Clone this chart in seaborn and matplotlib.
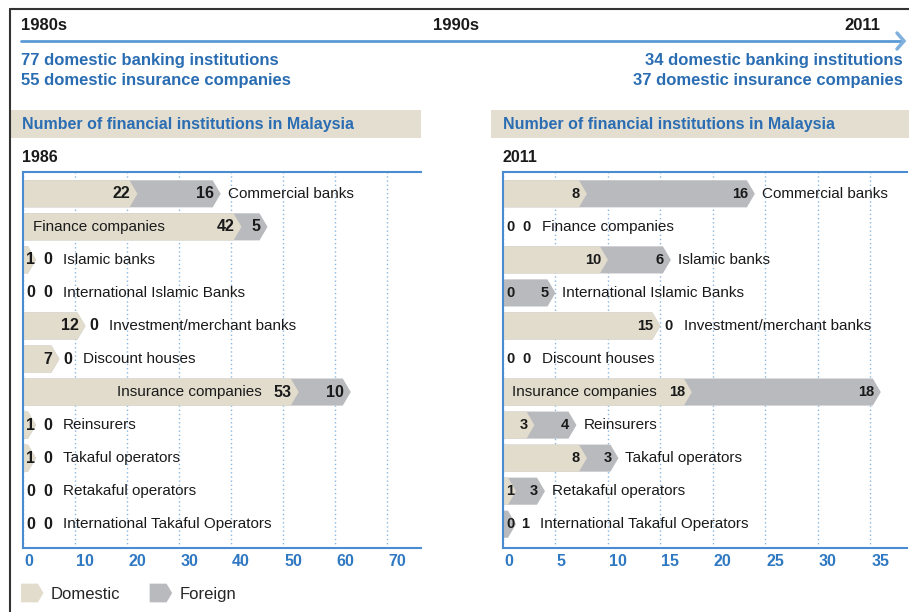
import pandas as pd
import matplotlib.pyplot as plt
import matplotlib.transforms as mt
import seaborn as sns
from matplotlib.patches import Polygon, Rectangle, Patch
from matplotlib.lines import Line2D
from matplotlib.legend_handler import HandlerPatch

# Data
categories = ['Commercial banks', 'Finance companies', 'Islamic banks',
              'International Islamic Banks', 'Investment/merchant banks',
              'Discount houses', 'Insurance companies', 'Reinsurers',
              'Takaful operators', 'Retakaful operators',
              'International Takaful Operators']
domestic_1986 = [22, 42, 1, 0, 12, 7, 53, 1, 1, 0, 0]
foreign_1986 = [16, 5, 0, 0, 0, 0, 10, 0, 0, 0, 0]
domestic_2011 = [8, 0, 10, 0, 15, 0, 18, 3, 8, 1, 0]
foreign_2011 = [16, 0, 6, 5, 0, 0, 18, 4, 3, 3, 1]
ticks_1986 = [0, 10, 20, 30, 40, 50, 60, 70]
ticks_2011 = [0, 5, 10, 15, 20, 25, 30, 35]

timeline = ['1980s', '1990s', '2011']
summary_1980s = ['77 domestic banking institutions', '55 domestic insurance companies']
summary_2011 = ['34 domestic banking institutions', '37 domestic insurance companies']
panel_title = 'Number of financial institutions in Malaysia'

BEIGE = '#e2dccd'
GREY = '#b9babe'
BLUE = '#2a6db2'
AXBLUE = '#4a8ccf'
DARK = '#1a1a1a'
W, H = 909, 612
TIP = 8  # arrow tip depth, pixels

sns.set_style('white')
plt.rcParams['font.family'] = ['Liberation Sans', 'DejaVu Sans']

fig = plt.figure(figsize=(W / 100, H / 100), dpi=100)


def fx(px):
    return px / W


def fy(py):
    return 1 - py / H


# outer frame
fig.add_artist(Line2D([fx(10), 1], [fy(9), fy(9)], color='#333333', lw=1.5))
fig.add_artist(Line2D([fx(10), fx(10)], [fy(9), 0], color='#333333', lw=1.5))

# timeline
fig.add_artist(Line2D([fx(21), fx(902)], [fy(41), fy(41)], color='#5b9bd5', lw=2))
fig.add_artist(Line2D([fx(897), fx(904), fx(897)], [fy(33), fy(41), fy(49)],
                      color='#7fb0de', lw=2.5, solid_joinstyle='miter'))
fig.text(fx(21), fy(25), timeline[0], fontsize=12, fontweight='bold', color=DARK, va='center')
fig.text(fx(456), fy(25), timeline[1], fontsize=12, fontweight='bold', color=DARK, va='center', ha='center')
fig.text(fx(880), fy(25), timeline[2], fontsize=12, fontweight='bold', color=DARK, va='center', ha='right')
for k, (a, b) in enumerate(zip(summary_1980s, summary_2011)):
    fig.text(fx(21), fy(60 + 20 * k), a, fontsize=12, fontweight='bold', color=BLUE, va='center')
    fig.text(fx(903), fy(60 + 20 * k), b, fontsize=12, fontweight='bold', color=BLUE, va='center', ha='right')

# panel headers
for left, right, year in [(10, 421, '1986'), (491, 909, '2011')]:
    fig.add_artist(Rectangle((fx(left), fy(138)), fx(right - left), 28 / H,
                             facecolor='#e4ded1', edgecolor='none'))
    fig.text(fx(left + 12), fy(124.5), panel_title, fontsize=11.5, fontweight='bold',
             color=BLUE, va='center')
    fig.text(fx(left + 12), fy(157), year, fontsize=11.5, fontweight='bold', color=DARK, va='center')

ax1 = fig.add_axes([fx(23), fy(548), fx(421 - 23), (548 - 172) / H])
ax2 = fig.add_axes([fx(503), fy(548), fx(907 - 503), (548 - 172) / H])


def chevronize(ax, ppu):
    tip = TIP / ppu
    for p in list(ax.patches):
        x0, w, y0, h = p.get_x(), p.get_width(), p.get_y(), p.get_height()
        p.remove()
        if w <= 0:
            continue
        end = x0 + max(w, tip + 5 / ppu)
        pts = [(x0, y0), (end - tip, y0), (end, y0 + h / 2), (end - tip, y0 + h), (x0, y0 + h)]
        ax.add_patch(Polygon(pts, closed=True, facecolor=p.get_facecolor(),
                             edgecolor='none', zorder=2))


def draw_panel(ax, dom, fore, ticks, xmax, inside, num_size):
    df = pd.DataFrame({'category': categories, 'domestic': dom,
                       'total': [d + f for d, f in zip(dom, fore)]})
    sns.barplot(data=df, x='total', y='category', orient='h', color=GREY,
                saturation=1, width=0.82, ax=ax)
    sns.barplot(data=df, x='domestic', y='category', orient='h', color=BEIGE,
                saturation=1, width=0.82, ax=ax)
    ax.set_xlim(0, xmax)
    ax.set_ylim(10.72, -0.66)
    ppu = ax.get_window_extent().width / xmax
    chevronize(ax, ppu)

    ax.set_xlabel('')
    ax.set_ylabel('')
    ax.set_yticks([])
    ax.set_xticks(ticks)
    ax.set_xticklabels([str(t) for t in ticks], fontsize=11.5, fontweight='bold', color='#2f78c2')
    ax.tick_params(axis='x', length=0, pad=4)
    ax.grid(axis='x', linestyle=(0, (1, 2)), color='#8ab6e0', lw=1)
    ax.set_axisbelow(True)
    for side in ['left', 'top', 'bottom']:
        ax.spines[side].set_color(AXBLUE)
        ax.spines[side].set_linewidth(1.5)
    ax.spines['right'].set_visible(False)
    # tick labels sit just right of their grid lines
    off = mt.ScaledTranslation(1 / 100, 0, fig.dpi_scale_trans)
    for lab in ax.get_xticklabels():
        lab.set_horizontalalignment('left')
        lab.set_transform(lab.get_transform() + off)

    # value numbers and labels
    r = fig.canvas.get_renderer()
    inv = ax.transData.inverted()
    x0 = ax.transData.transform((0, 0))[0]

    def bar_end(v):
        return x0 + max(v * ppu, TIP + 5) if v > 0 else x0

    def put(px, i, s, ha, **kw):
        y = ax.transData.transform((0, i))[1]
        t = ax.text(inv.transform((px, y))[0], i, s, ha=ha, va='center', zorder=4, **kw)
        return t, t.get_window_extent(r)

    for i, (cat, d, f) in enumerate(zip(categories, dom, fore)):
        num_kw = dict(fontsize=num_size, fontweight='bold', color=DARK)
        t, bb = put(0, i, str(d), 'left', **num_kw)
        wd = bb.width
        if d > 0 and bar_end(d) - 7 - wd >= x0 + 3:
            dr = bar_end(d) - 7
        else:
            dr = x0 + 3 + wd
        t.remove()
        put(dr, i, str(d), 'right', **num_kw)
        dl = dr - wd

        t, bb = put(0, i, str(f), 'left', **num_kw)
        wf = bb.width
        t.remove()
        if f > 0:
            fl = max(bar_end(d + f) - 7 - wf, dr + 7)
        else:
            fl = max(bar_end(d) + 4, dr + 8)
        put(fl, i, str(f), 'left', **num_kw)
        fr = fl + wf

        lab_kw = dict(fontsize=11, color=DARK)
        if cat in inside:
            if inside[cat] == 'left':
                put(x0 + 10, i, cat, 'left', **lab_kw)
            else:
                put(dl - 12, i, cat, 'right', **lab_kw)
        else:
            put(max(bar_end(d + f) + 7, fr + 11), i, cat, 'left', **lab_kw)


draw_panel(ax1, domestic_1986, foreign_1986, ticks_1986, 76.5,
           {'Finance companies': 'left', 'Insurance companies': 'right'}, 11.5)
draw_panel(ax2, domestic_2011, foreign_2011, ticks_2011, 38.5,
           {'Insurance companies': 'right'}, 10.5)


class HandlerChevron(HandlerPatch):
    def create_artists(self, legend, orig_handle, xdescent, ydescent, width, height, fontsize, trans):
        tip = height * 0.3
        x, y = -xdescent, -ydescent
        pts = [(x, y), (x + width - tip, y), (x + width, y + height / 2),
               (x + width - tip, y + height), (x, y + height)]
        return [Polygon(pts, closed=True, facecolor=orig_handle.get_facecolor(),
                        edgecolor='none', transform=trans)]


handles = [Patch(facecolor=BEIGE), Patch(facecolor=GREY)]
fig.legend(handles, ['Domestic', 'Foreign'], loc='center left',
           bbox_to_anchor=(fx(21), fy(593)), ncol=2, frameon=False,
           fontsize=12, handlelength=1.35, handleheight=1.35, handletextpad=0.45,
           columnspacing=1.75, borderpad=0, borderaxespad=0,
           handler_map={Patch: HandlerChevron()})

fig.savefig('out.png', dpi=100)
